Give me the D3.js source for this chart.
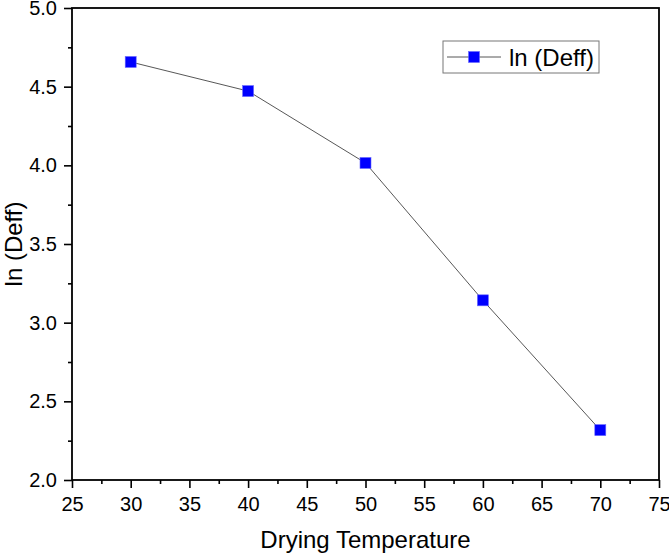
<!DOCTYPE html>
<html lang="en">
<head>
<meta charset="UTF-8">
<title>ln (Deff) vs Drying Temperature</title>
<script src="https://d3js.org/d3.v7.min.js"></script>
<style>
    body { margin: 0; background: #fff; font-family: Arial, "Liberation Sans", sans-serif; }
    svg { display: block; }
</style>
</head>
<body>
<svg id="chart"></svg>
<script>
    // data
    const temperatures = [30, 40, 50, 60, 70];
    const lnDeff = [4.657, 4.472, 4.015, 3.142, 2.317];
    const xTicks = [25, 30, 35, 40, 45, 50, 55, 60, 65, 70, 75];
    const yTicks = [2.0, 2.5, 3.0, 3.5, 4.0, 4.5, 5.0];
    const seriesName = "ln (Deff)";

    const W = 669, H = 554;
    const margin = { top: 8, right: 10, bottom: 74, left: 72 };
    const width = W - margin.left - margin.right;
    const height = H - margin.top - margin.bottom;
    const font = "Arial, 'Liberation Sans', sans-serif";

    const svg = d3.select("#chart").attr("width", W).attr("height", H);
    const g = svg.append("g").attr("transform", `translate(${margin.left},${margin.top})`);

    const x = d3.scaleLinear().domain([25, 75]).range([0, width]);
    const y = d3.scaleLinear().domain([2, 5]).range([height, 0]);

    // minor ticks (half steps)
    const xMinor = xTicks.slice(0, -1).map(v => v + 2.5);
    const yMinor = yTicks.slice(0, -1).map(v => v + 0.25);

    g.append("g")
        .attr("transform", `translate(0,${height})`)
        .call(d3.axisBottom(x).tickValues(xMinor).tickSize(4).tickFormat(""))
        .call(a => a.select(".domain").remove())
        .selectAll("line").attr("stroke-width", 1.6);

    g.append("g")
        .call(d3.axisLeft(y).tickValues(yMinor).tickSize(4).tickFormat(""))
        .call(a => a.select(".domain").remove())
        .selectAll("line").attr("stroke-width", 1.6);

    const xAxis = g.append("g")
        .attr("transform", `translate(0,${height})`)
        .call(d3.axisBottom(x).tickValues(xTicks).tickSize(8).tickPadding(9).tickFormat(d3.format("d")));
    xAxis.select(".domain").remove();
    xAxis.selectAll("line").attr("stroke-width", 1.6);
    xAxis.selectAll("text").attr("font-size", 20).attr("font-family", font).attr("fill", "#000");

    const yAxis = g.append("g")
        .call(d3.axisLeft(y).tickValues(yTicks).tickSize(8).tickPadding(7).tickFormat(d3.format(".1f")));
    yAxis.select(".domain").remove();
    yAxis.selectAll("line").attr("stroke-width", 1.6);
    yAxis.selectAll("text").attr("font-size", 20).attr("font-family", font).attr("fill", "#000");

    // frame
    g.append("rect")
        .attr("x", 0).attr("y", 0)
        .attr("width", width).attr("height", height)
        .attr("fill", "none").attr("stroke", "#000").attr("stroke-width", 1.8);

    // series
    const pts = temperatures.map((t, i) => ({ t, v: lnDeff[i] }));

    g.append("path")
        .datum(pts)
        .attr("fill", "none")
        .attr("stroke", "#444")
        .attr("stroke-width", 0.9)
        .attr("d", d3.line().x(d => x(d.t)).y(d => y(d.v)));

    const ms = 11;
    g.selectAll("rect.pt")
        .data(pts)
        .enter().append("rect")
        .attr("class", "pt")
        .attr("x", d => x(d.t) - ms / 2)
        .attr("y", d => y(d.v) - ms / 2)
        .attr("width", ms).attr("height", ms)
        .attr("fill", "#0000ff")
        .attr("stroke", "#6a6aff").attr("stroke-width", 0.6);

    // axis titles
    svg.append("text")
        .attr("x", margin.left + width / 2)
        .attr("y", 548)
        .attr("text-anchor", "middle")
        .attr("font-size", 24)
        .attr("font-family", font)
        .text("Drying Temperature");

    svg.append("text")
        .attr("transform", `translate(22,${margin.top + height / 2}) rotate(-90)`)
        .attr("text-anchor", "middle")
        .attr("font-size", 24)
        .attr("font-family", font)
        .text(seriesName);

    // legend
    const lg = svg.append("g").attr("transform", "translate(443,41)");
    lg.append("rect")
        .attr("width", 156).attr("height", 32)
        .attr("fill", "#fff").attr("stroke", "#777").attr("stroke-width", 1);
    lg.append("line")
        .attr("x1", 4).attr("x2", 58).attr("y1", 16).attr("y2", 16)
        .attr("stroke", "#444").attr("stroke-width", 0.9);
    lg.append("rect")
        .attr("x", 31 - ms / 2).attr("y", 16 - ms / 2)
        .attr("width", ms).attr("height", ms)
        .attr("fill", "#0000ff").attr("stroke", "#6a6aff").attr("stroke-width", 0.6);
    lg.append("text")
        .attr("x", 66).attr("y", 25)
        .attr("font-size", 24)
        .attr("font-family", font)
        .text(seriesName);
</script>
</body>
</html>
